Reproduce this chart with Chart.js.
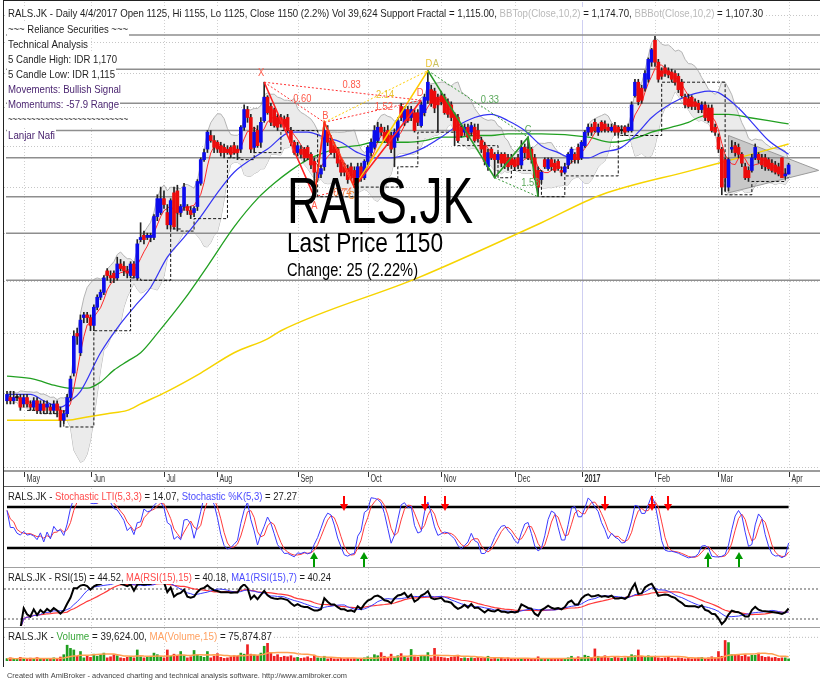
<!DOCTYPE html>
<html>
<head>
<meta charset="utf-8">
<script src="https://cdn.jsdelivr.net/npm/chart.js@4.4.1/dist/chart.umd.min.js"></script>
<style>
html, body { margin: 0; padding: 0; background: #fff; }
#wrap { position: relative; width: 820px; height: 683px; overflow: hidden; background: #fff; }
canvas { position: absolute; left: 0; }
</style>
</head>
<body>
<div id="wrap">
  <canvas id="cMain" width="820" height="487" style="top:0px"></canvas>
  <canvas id="cStoch" width="820" height="80" style="top:487px"></canvas>
  <canvas id="cRsi" width="820" height="60" style="top:567px"></canvas>
  <canvas id="cVol" width="820" height="56" style="top:627px"></canvas>
</div>
<script>
// daily bars, RALS.JK, late Apr 2016 .. 4 Apr 2017
const opens = [
  650,655,650,655,655,645,655,645,640,650,635,645,640,640,635,645,635,620,630,655,
  695,765,730,795,800,795,780,815,835,845,890,880,885,875,905,900,890,880,905,875,
  960,970,965,965,965,1015,1025,1060,1025,995,1075,1080,1025,1040,1040,1030,1025,1040,1100,1165,
  1195,1235,1220,1215,1205,1200,1195,1200,1205,1195,1195,1260,1315,1290,1200,1250,1215,1280,1355,1325,
  1315,1290,1290,1285,1290,1250,1215,1185,1195,1195,1200,1180,1160,1115,1125,1145,1250,1220,1205,1195,
  1165,1145,1140,1145,1135,1115,1145,1115,1160,1185,1200,1220,1260,1245,1250,1235,1200,1230,1325,1275,
  1315,1290,1305,1305,1265,1305,1345,1380,1375,1355,1360,1355,1340,1330,1300,1290,1260,1245,1260,1245,
  1260,1250,1220,1205,1145,1195,1180,1165,1180,1180,1170,1170,1165,1170,1150,1200,1195,1195,1170,1135,
  1110,1165,1140,1165,1155,1160,1135,1130,1150,1165,1180,1200,1170,1205,1245,1260,1275,1245,1275,1270,
  1260,1250,1265,1260,1250,1260,1250,1250,1360,1405,1385,1385,1415,1475,1555,1475,1445,1455,1445,1440,
  1435,1425,1405,1355,1350,1355,1340,1335,1315,1330,1320,1320,1260,1230,1195,1165,1090,1195,1205,1200,
  1180,1145,1135,1135,1170,1180,1170,1170,1165,1155,1150,1145,1170,1120,1125
];
const highs = [
  665,665,665,660,660,660,660,650,655,655,650,650,650,645,650,650,640,635,660,690,
  770,775,800,805,805,800,820,840,850,880,895,890,890,920,915,910,900,910,910,960,
  1000,980,975,975,1020,1070,1090,1080,1045,1060,1090,1095,1045,1100,1045,1040,1040,1110,1170,1195,
  1250,1250,1235,1220,1215,1210,1205,1205,1215,1205,1265,1330,1325,1300,1260,1265,1290,1405,1360,1335,
  1320,1300,1300,1295,1300,1260,1220,1215,1205,1200,1205,1185,1170,1135,1150,1275,1265,1235,1215,1200,
  1170,1155,1150,1155,1145,1155,1155,1165,1205,1225,1265,1275,1270,1260,1265,1245,1255,1290,1335,1325,
  1325,1325,1315,1315,1340,1365,1445,1395,1385,1365,1375,1365,1350,1340,1305,1300,1270,1270,1270,1275,
  1270,1270,1230,1215,1195,1200,1185,1185,1185,1185,1180,1180,1170,1180,1220,1210,1230,1200,1180,1145,
  1135,1170,1170,1170,1165,1165,1145,1155,1185,1200,1185,1210,1220,1250,1270,1270,1285,1270,1280,1280,
  1270,1270,1275,1265,1265,1265,1270,1340,1415,1415,1395,1445,1490,1525,1570,1485,1455,1465,1455,1450,
  1445,1435,1415,1365,1365,1360,1350,1345,1340,1340,1330,1330,1270,1240,1200,1170,1170,1220,1215,1210,
  1185,1155,1145,1180,1210,1185,1180,1180,1170,1165,1160,1155,1170,1140,1155
];
const lows = [
  645,645,645,650,635,640,640,635,635,630,630,630,630,630,630,625,610,615,625,650,
  690,745,725,785,785,770,770,810,830,840,870,865,865,870,890,880,875,875,875,870,
  955,950,960,955,960,1005,1020,1035,985,985,985,980,1015,1030,1020,1010,1015,1030,1095,1160,
  1185,1215,1185,1185,1175,1170,1180,1170,1180,1165,1185,1250,1275,1185,1185,1200,1200,1275,1300,1265,
  1260,1250,1260,1250,1245,1205,1180,1175,1170,1160,1165,1140,1065,1110,1115,1135,1205,1180,1170,1145,
  1120,1120,1100,1110,1090,1110,1105,1110,1150,1175,1195,1215,1235,1215,1205,1185,1145,1220,1280,1265,
  1275,1280,1245,1265,1260,1295,1335,1325,1305,1245,1330,1300,1290,1280,1205,1215,1230,1235,1220,1235,
  1215,1215,1185,1150,1135,1165,1115,1155,1145,1140,1135,1140,1135,1140,1140,1170,1165,1155,1110,1065,
  1100,1140,1135,1135,1130,1135,1120,1125,1140,1155,1155,1155,1165,1200,1235,1235,1245,1235,1245,1245,
  1245,1245,1235,1235,1240,1235,1245,1245,1355,1330,1335,1375,1405,1460,1460,1405,1415,1425,1420,1405,
  1395,1370,1355,1320,1320,1315,1315,1305,1305,1280,1275,1245,1235,1185,1070,1080,1080,1185,1175,1170,
  1145,1110,1105,1130,1165,1155,1140,1135,1135,1130,1125,1120,1115,1115,1125
];
const closes = [
  660,650,655,655,640,655,645,640,650,635,645,635,645,635,645,635,620,630,655,685,
  760,760,790,800,795,780,815,835,845,875,880,875,875,905,895,890,885,905,880,950,
  965,960,970,970,1015,1060,1060,1045,995,1055,990,1025,1040,1090,1030,1020,1035,1105,1165,1185,
  1245,1220,1200,1195,1185,1185,1185,1180,1185,1185,1260,1315,1290,1195,1245,1205,1275,1355,1305,1275,
  1265,1260,1270,1260,1250,1215,1185,1205,1180,1170,1170,1150,1130,1130,1140,1250,1215,1185,1185,1155,
  1130,1130,1110,1115,1100,1145,1115,1160,1200,1215,1250,1260,1245,1220,1215,1195,1245,1280,1290,1315,
  1280,1315,1250,1275,1330,1355,1405,1335,1320,1330,1340,1305,1300,1290,1250,1220,1235,1260,1230,1265,
  1220,1225,1195,1160,1185,1170,1165,1180,1155,1155,1145,1150,1145,1150,1200,1185,1170,1165,1115,1090,
  1130,1145,1165,1145,1135,1140,1130,1145,1180,1195,1165,1165,1215,1245,1260,1245,1250,1260,1250,1255,
  1250,1260,1245,1245,1250,1245,1260,1330,1405,1340,1345,1435,1485,1520,1475,1415,1425,1435,1430,1415,
  1405,1380,1360,1330,1325,1325,1325,1315,1330,1290,1280,1250,1245,1195,1090,1115,1165,1200,1185,1180,
  1155,1115,1115,1170,1200,1165,1150,1145,1140,1135,1130,1125,1115,1125,1150
];
const volumes = [
  45000,60000,35000,40000,70000,50000,40000,55000,45000,65000,40000,50000,35000,45000,60000,50000,75000,120000,300000,240000,
  210000,90000,180000,60000,100000,70000,130000,90000,120000,150000,60000,80000,120000,100000,60000,50000,70000,90000,60000,210000,
  80000,60000,70000,90000,150000,120000,80000,60000,210000,90000,130000,110000,180000,100000,60000,80000,200000,120000,90000,70000,
  180000,60000,90000,140000,70000,50000,60000,80000,100000,90000,150000,130000,310000,130000,110000,100000,150000,280000,440000,160000,
  90000,120000,70000,90000,80000,100000,60000,70000,50000,60000,80000,50000,110000,60000,50000,90000,40000,50000,40000,40000,
  50000,40000,50000,40000,45000,50000,40000,60000,80000,60000,120000,100000,160000,90000,70000,130000,60000,100000,140000,70000,
  60000,220000,80000,70000,100000,90000,160000,60000,240000,80000,70000,60000,50000,70000,80000,110000,50000,60000,50000,60000,
  50000,70000,50000,60000,90000,40000,50000,40000,50000,40000,60000,40000,50000,40000,50000,40000,50000,40000,45000,80000,
  40000,50000,40000,50000,40000,45000,40000,50000,60000,90000,50000,80000,60000,110000,90000,60000,230000,90000,70000,100000,
  60000,50000,80000,60000,50000,60000,70000,120000,100000,210000,90000,80000,100000,70000,90000,60000,50000,60000,70000,50000,
  40000,60000,50000,40000,50000,40000,50000,60000,70000,50000,60000,80000,60000,180000,90000,390000,350000,120000,120000,120000,
  90000,120000,80000,110000,110000,150000,90000,70000,80000,60000,70000,50000,60000,60000,39624
];

// month starts (bar index) and axis labels
const monthIdx = [5, 25, 47, 63, 87, 108, 130, 152, 172, 194, 213, 234];
const monthLabels = ['May', 'Jun', 'Jul', 'Aug', 'Sep', 'Oct', 'Nov', 'Dec', '2017', 'Feb', 'Mar', 'Apr'];
const yearIdx = 172;

// longer moving averages (bar index, value)
const maBlueIdx = [0,7,11,16,19,22,28,33,38,43,48,53,58,63,68,73,78,85,90,95,100,105,110,115,120,125,130,135,140,145,150,155,160,165,169,174,178,184,189,193,199,204,210,213,219,223,228,234];
const maBlueVal = [660,660,650,640,650,665,730,775,815,855,920,965,1015,1075,1130,1165,1195,1245,1245,1230,1215,1185,1170,1170,1180,1200,1230,1265,1290,1300,1280,1250,1205,1185,1170,1170,1185,1200,1245,1290,1335,1360,1375,1370,1320,1275,1220,1180];
const maGreenIdx = [0,8,14,19,24,28,32,36,40,45,53,60,68,75,80,85,90,95,100,105,110,115,120,125,130,135,140,145,150,155,160,174,181,189,193,199,204,207,211,216,222,228,234];
const maGreenVal = [690,685,675,670,670,680,700,715,730,765,830,900,990,1060,1100,1135,1165,1185,1200,1205,1215,1215,1215,1220,1230,1230,1235,1235,1240,1240,1240,1230,1215,1230,1245,1260,1275,1290,1300,1300,1290,1280,1270];
const maYellowIdx = [0,18,24,30,36,40,48,58,68,78,82,123,160,178,205,219,234];
const maYellowVal = [620,620,625,630,635,645,665,695,730,755,770,875,1000,1070,1135,1170,1210];

// horizontal levels and price grid
const levelPrices = [1575, 1450, 1335, 1250, 1170, 1065, 975, 870];
const gridPrices = [1653, 1549, 1437, 1323, 1204, 1090, 976, 869, 766, 662, 554];

// harmonic patterns (X A B C D)
const redPatIdx = [77, 92, 95, 104, 124];
const redPatVal = [1405, 1065, 1275, 1090, 1345];
const redRatios = ['0.60', '0.74', '1.52', '0.83'];
const yelPatIdx = [92, 95, 104, 126];
const yelPatVal = [1065, 1275, 1090, 1445];
const yelRatio = '2.14';
const grnPatIdx = [126, 146, 156, 159];
const grnPatVal = [1445, 1115, 1230, 1065];
const grnRatios = ['0.33', '1.53'];

// triangle at the end
const triIdx = [216, 243, 216, 216];
const triVal = [1235, 1135, 1075, 1235];

// stochastic signals
const sellIdx = [101, 125, 131, 179, 193, 198];
const buyIdx = [92, 107, 210, 219];

const N = closes.length;
const X_MIN = -0.9, X_MAX = 243.4;
const F = '"Liberation Sans", Arial, sans-serif';
const DARK = '#1e1e1e';

const series = a => a.map((v, i) => ({ x: i, y: v }));
const pts = (ix, vv) => ix.map((x, k) => ({ x: x, y: vv[k] }));

function sma(a, n) {
  return a.map((v, i) => {
    if (v == null) return null;
    let s = 0, c = 0;
    for (let j = Math.max(0, i - n + 1); j <= i; j++) if (a[j] != null) { s += a[j]; c++; }
    return s / c;
  });
}
function sdev(a, n) {
  const m = sma(a, n);
  return a.map((v, i) => {
    let s = 0, c = 0;
    for (let j = Math.max(0, i - n + 1); j <= i; j++) { s += (a[j] - m[i]) ** 2; c++; }
    return Math.sqrt(s / c);
  });
}

// indicators
const bbMid = sma(closes, 10), bbSd = sdev(closes, 10);
const bbUp = bbMid.map((m, i) => m + 2 * bbSd[i]);
const bbLo = bbMid.map((m, i) => m - 2 * bbSd[i]);
const maRed = sma(closes, 5);

const support = [];
let lastSup = null;
for (let i = 0; i < N; i++) {
  const j = i - 2;
  if (j >= 2 && lows[j] < lows[j - 1] && lows[j] < lows[j - 2] && lows[j] <= lows[j + 1] && lows[j] <= lows[j + 2]) lastSup = lows[j];
  support.push(lastSup);
}

const fastK = closes.map((c, i) => {
  let hh = -Infinity, ll = Infinity;
  for (let j = Math.max(0, i - 4); j <= i; j++) { hh = Math.max(hh, highs[j]); ll = Math.min(ll, lows[j]); }
  return hh > ll ? (c - ll) / (hh - ll) * 100 : 50;
});
const stK = sma(fastK, 3);
const stD = sma(stK, 3);

function rsi(c, n) {
  const out = [null];
  let ag = 0, al = 0;
  for (let i = 1; i < c.length; i++) {
    const d = c[i] - c[i - 1];
    const m = Math.min(i, n);
    ag = (ag * (m - 1) + Math.max(d, 0)) / m;
    al = (al * (m - 1) + Math.max(-d, 0)) / m;
    out.push(i < 4 ? null : (al === 0 ? 100 : 100 - 100 / (1 + ag / al)));
  }
  return out;
}
const rsiLine = rsi(closes, 15);
const rsiMa15 = sma(rsiLine, 15);
const rsiMa7 = sma(rsiLine, 7);
const volMa = sma(volumes, 15);

// drawing helpers
function drawText(ctx, segs, x, y, size, width, opts) {
  opts = opts || {};
  ctx.save();
  ctx.font = (opts.bold ? 'bold ' : '') + size + 'px ' + F;
  ctx.textBaseline = opts.baseline || 'middle';
  ctx.textAlign = 'left';
  const full = segs.map(s => s[0]).join('');
  const w = ctx.measureText(full).width;
  const k = width ? width / w : (opts.sx || 1);
  if (opts.bg) {
    ctx.fillStyle = '#fff';
    ctx.fillRect(x - 1, y - Math.round(size * 0.6), w * k + 2, Math.round(size * 1.2));
  }
  ctx.translate(x, y);
  ctx.scale(k, 1);
  let cx = 0;
  for (const s of segs) {
    ctx.fillStyle = s[1];
    ctx.fillText(s[0], cx, 0);
    cx += ctx.measureText(s[0]).width;
  }
  ctx.restore();
}
function lbl(ctx, t, x, y, color) {
  ctx.save();
  ctx.font = '11px ' + F;
  ctx.fillStyle = color;
  ctx.textAlign = 'center';
  ctx.textBaseline = 'middle';
  ctx.translate(x, y);
  ctx.scale(0.85, 1);
  ctx.fillText(t, 0, 0);
  ctx.restore();
}
function seg(ctx, x1, y1, x2, y2) {
  ctx.beginPath(); ctx.moveTo(x1, y1); ctx.lineTo(x2, y2); ctx.stroke();
}
function monthGrid(chart) {
  const { ctx, chartArea: a, scales: { x } } = chart;
  ctx.save();
  ctx.strokeStyle = '#d0d0d0';
  ctx.lineWidth = 1;
  ctx.setLineDash([1, 2]);
  monthIdx.forEach(m => {
    const px = Math.round(x.getPixelForValue(m)) + 0.5;
    seg(ctx, px, a.top, px, a.bottom);
  });
  ctx.setLineDash([]);
  ctx.strokeStyle = '#cfcff2';
  const py = Math.round(x.getPixelForValue(yearIdx)) + 0.5;
  seg(ctx, py, a.top, py, a.bottom);
  ctx.restore();
}

const xCfg = { type: 'linear', min: X_MIN, max: X_MAX, display: false, offset: false, bounds: 'data' };
const baseOpts = {
  responsive: false,
  devicePixelRatio: 1,
  animation: false,
  events: [],
  plugins: { legend: { display: false }, tooltip: { enabled: false } }
};

function lineDs(data, color, width, order, extra) {
  return Object.assign({ type: 'line', data: data, borderColor: color, borderWidth: width, pointRadius: 0, fill: false, order: order, tension: 0 }, extra || {});
}
function patDs(ix, vv, ks, color, dashed) {
  return lineDs(ks.map(k => ({ x: ix[k], y: vv[k] })), color, dashed ? 1 : 1.6, 1, { borderDash: dashed ? [2, 2] : [] });
}

// ---------------- main price pane ----------------
const candleCol = closes.map((c, i) => c > opens[i] ? '#0c0cec' : (c < opens[i] ? '#ec0c0c' : '#111'));

const mainDeco = {
  id: 'mainDeco',
  beforeDatasetsDraw(chart) {
    const { ctx, chartArea: a, scales: { y } } = chart;
    ctx.save();
    ctx.strokeStyle = '#c6c6c6';
    ctx.lineWidth = 1;
    ctx.setLineDash([1, 2]);
    gridPrices.forEach(p => {
      const py = Math.round(y.getPixelForValue(p)) + 0.5;
      seg(ctx, a.left, py, a.right, py);
    });
    ctx.restore();
    monthGrid(chart);
  },
  afterDatasetsDraw(chart) {
    const { ctx, scales: { x, y } } = chart;
    const P = (ix, vv, k) => [x.getPixelForValue(ix[k]), y.getPixelForValue(vv[k])];
    const mid = (p, q) => [(p[0] + q[0]) / 2, (p[1] + q[1]) / 2];
    const red = '#ff5a4a', yel = '#e9c22e', grn = '#5aa85a';
    const rX = P(redPatIdx, redPatVal, 0), rA = P(redPatIdx, redPatVal, 1), rB = P(redPatIdx, redPatVal, 2),
          rC = P(redPatIdx, redPatVal, 3), rD = P(redPatIdx, redPatVal, 4);
    lbl(ctx, 'X', rX[0] - 3, rX[1] - 9, red);
    lbl(ctx, 'A', rA[0], rA[1] + 9, red);
    lbl(ctx, 'B', rB[0] + 1, rB[1] - 6, red);
    lbl(ctx, 'C', rC[0] - 3, rC[1] + 9, '#f08a30');
    lbl(ctx, 'D', rD[0] - 1, rD[1] - 7, red);
    let m = mid(rX, rB); lbl(ctx, redRatios[0], m[0] + 8, m[1] - 3, red);
    m = mid(rA, rC); lbl(ctx, redRatios[1], m[0] + 8, m[1] + 1, '#f07a3a');
    m = mid(rB, rD); lbl(ctx, redRatios[2], m[0] + 11, m[1] - 4, red);
    m = mid(rX, rD); lbl(ctx, redRatios[3], m[0] + 9, m[1] - 6, red);
    const yB = P(yelPatIdx, yelPatVal, 1), yD = P(yelPatIdx, yelPatVal, 3);
    lbl(ctx, 'D', yD[0] + 1, yD[1] - 7, yel);
    m = mid(yB, yD); lbl(ctx, yelRatio, m[0] + 9, m[1] - 2, yel);
    const gA = P(grnPatIdx, grnPatVal, 0), gB = P(grnPatIdx, grnPatVal, 1), gC = P(grnPatIdx, grnPatVal, 2), gD = P(grnPatIdx, grnPatVal, 3);
    lbl(ctx, 'A', gA[0] + 8, gA[1] - 7, '#c8c060');
    lbl(ctx, 'C', gC[0], gC[1] - 7, grn);
    m = mid(gA, gC); lbl(ctx, grnRatios[0], m[0] + 12, m[1] - 4, grn);
    m = mid(gB, gD); lbl(ctx, grnRatios[1], m[0] + 14, m[1] - 4, grn);
  },
  afterDraw(chart) {
    const { ctx, scales: { x } } = chart;
    ctx.save();
    // frame
    ctx.strokeStyle = '#222';
    ctx.lineWidth = 1;
    seg(ctx, 3, 0.5, 820, 0.5);
    seg(ctx, 3.5, 0, 3.5, 487);
    // header and notes
    drawText(ctx, [
      ['RALS.JK - Daily 4/4/2017 Open 1125, Hi 1155, Lo 1125, Close 1150 (2.2%) Vol 39,624 Support Fractal = 1,115.00, ', DARK],
      ['BBTop(Close,10,2)', '#b9b9b9'], [' = 1,174.70, ', DARK],
      ['BBBot(Close,10,2)', '#b9b9b9'], [' = 1,107.30', DARK]
    ], 8, 14, 11, 755, { bg: true });
    const purple = '#4a2470';
    const notes = [
      ['~~~ Reliance Securities ~~~', DARK, 30, 120],
      ['Technical Analysis', DARK, 45, 80],
      ['5 Candle High: IDR 1,170', DARK, 60, 109],
      ['5 Candle Low: IDR 1,115', DARK, 75, 107],
      ['Movements: Bullish Signal', purple, 90, 113],
      ['Momentums: -57.9 Range', purple, 105, 111],
      ['~~~~~~~~~~~~~~~~~~~~~~~~~~', DARK, 120, 120],
      ['Lanjar Nafi', purple, 136, 47]
    ];
    notes.forEach(n => drawText(ctx, [[n[0], n[1]]], 8, n[2], 11, n[3], { bg: true }));
    // big label
    drawText(ctx, [['RALS.JK', '#000']], 287, 223, 64, 186, { baseline: 'alphabetic' });
    drawText(ctx, [['Last Price 1150', '#000']], 287, 252, 28, 156, { baseline: 'alphabetic' });
    drawText(ctx, [['Change: 25 (2.22%)', '#000']], 287, 276, 18, 131, { baseline: 'alphabetic' });
    // date axis strip
    ctx.fillStyle = '#fff';
    ctx.fillRect(4, 471, 816, 16);
    ctx.strokeStyle = '#9c9c9c';
    ctx.lineWidth = 2;
    seg(ctx, 4, 471, 820, 471);
    ctx.strokeStyle = '#666';
    ctx.lineWidth = 1;
    seg(ctx, 4, 486.5, 820, 486.5);
    monthIdx.forEach((mi, k) => {
      const px = Math.round(x.getPixelForValue(mi)) + 0.5;
      ctx.strokeStyle = '#333';
      seg(ctx, px, 472, px, 477);
      drawText(ctx, [[monthLabels[k], '#333']], px + 2, 479.5, 10, null, { bold: monthLabels[k] === '2017', sx: 0.72 });
    });
    ctx.restore();
  }
};

new Chart(document.getElementById('cMain'), {
  type: 'bar',
  data: {
    datasets: [
      lineDs(series(bbUp), '#b4b4b4', 1, 30, { fill: '+1', backgroundColor: '#ebebeb' }),
      lineDs(series(bbLo), '#b4b4b4', 1, 30),
      lineDs(pts(triIdx, triVal), '#9a9a9a', 1, 25, { fill: 'shape', backgroundColor: 'rgba(120,120,120,0.30)' })
    ].concat(
      levelPrices.map(p => lineDs([{ x: -0.3, y: p }, { x: X_MAX, y: p }], '#8e8e8e', 1.5, 20))
    ).concat([
      lineDs(pts(maYellowIdx, maYellowVal), '#f6d400', 1.5, 12, { cubicInterpolationMode: 'monotone' }),
      lineDs(pts(maGreenIdx, maGreenVal), '#22a022', 1.3, 11, { cubicInterpolationMode: 'monotone' }),
      lineDs(pts(maBlueIdx, maBlueVal), '#3434f4', 1.2, 10, { cubicInterpolationMode: 'monotone' }),
      lineDs(series(maRed), '#ff2a2a', 1, 9),
      lineDs(series(support), '#111', 1, 8, { stepped: 'after', borderDash: [3, 2] }),
      { type: 'bar', data: closes.map((c, i) => ({ x: i, y: [lows[i], highs[i]] })), backgroundColor: '#222',
        barThickness: 1, grouped: false, order: 5 },
      { type: 'bar', data: closes.map((c, i) => ({ x: i, y: [opens[i], c] })), backgroundColor: candleCol,
        barThickness: 3, grouped: false, minBarLength: 1, order: 4 },
      patDs(redPatIdx, redPatVal, [0, 1, 2, 3, 4], '#ff2222', false),
      patDs(redPatIdx, redPatVal, [0, 2], '#ff3030', true),
      patDs(redPatIdx, redPatVal, [1, 3], '#ff3030', true),
      patDs(redPatIdx, redPatVal, [2, 4], '#ff3030', true),
      patDs(redPatIdx, redPatVal, [0, 4], '#ff3030', true),
      patDs(yelPatIdx, yelPatVal, [0, 1, 2, 3], '#ffcc00', false),
      patDs(yelPatIdx, yelPatVal, [1, 3], '#ffcc00', true),
      patDs(grnPatIdx, grnPatVal, [0, 1, 2, 3], '#2a9a2a', false),
      patDs(grnPatIdx, grnPatVal, [0, 2], '#3a9a3a', true),
      patDs(grnPatIdx, grnPatVal, [1, 3], '#3a9a3a', true)
    ])
  },
  options: Object.assign({}, baseOpts, {
    layout: { padding: { left: 4, top: 2, right: 0, bottom: 17 } },
    scales: {
      x: xCfg,
      y: { type: 'logarithmic', min: 549.7, max: 1706, display: false, bounds: 'data' }
    }
  }),
  plugins: [mainDeco]
});

// ---------------- stochastic pane ----------------
const stochDeco = {
  id: 'stochDeco',
  beforeDatasetsDraw(chart) { monthGrid(chart); },
  afterDraw(chart) {
    const { ctx, scales: { x } } = chart;
    ctx.save();
    ctx.strokeStyle = '#222';
    ctx.lineWidth = 1;
    seg(ctx, 3.5, 0, 3.5, 80);
    sellIdx.forEach(i => {
      const px = Math.round(x.getPixelForValue(i));
      ctx.fillStyle = '#ff0000';
      ctx.fillRect(px - 1, 9, 2, 9);
      ctx.beginPath(); ctx.moveTo(px - 4, 17); ctx.lineTo(px + 4, 17); ctx.lineTo(px, 24); ctx.closePath(); ctx.fill();
    });
    buyIdx.forEach(i => {
      const px = Math.round(x.getPixelForValue(i));
      ctx.fillStyle = '#009a00';
      ctx.fillRect(px - 1, 71, 2, 9);
      ctx.beginPath(); ctx.moveTo(px - 4, 72); ctx.lineTo(px + 4, 72); ctx.lineTo(px, 65); ctx.closePath(); ctx.fill();
    });
    drawText(ctx, [['RALS.JK - ', DARK], ['Stochastic LTI(5,3,3)', '#ff4a4a'], [' = 14.07, ', DARK],
      ['Stochastic %K(5,3)', '#4a4aff'], [' = 27.27', DARK]], 8, 10, 11, 289, { bg: true });
    ctx.restore();
  }
};
new Chart(document.getElementById('cStoch'), {
  type: 'line',
  data: {
    datasets: [
      lineDs([{ x: 0, y: 80 }, { x: N - 1, y: 80 }], '#000', 2.5, 5),
      lineDs([{ x: 0, y: 20 }, { x: N - 1, y: 20 }], '#000', 2.5, 5),
      lineDs(series(stD), '#ff3a3a', 1, 3),
      lineDs(series(stK), '#3a3aff', 1, 2)
    ]
  },
  options: Object.assign({}, baseOpts, {
    layout: { padding: { left: 4, top: 1, right: 0, bottom: 1 } },
    scales: { x: xCfg, y: { type: 'linear', min: -6.3, max: 107.8, display: false, bounds: 'data' } }
  }),
  plugins: [stochDeco]
});

// ---------------- RSI pane ----------------
const rsiDeco = {
  id: 'rsiDeco',
  beforeDatasetsDraw(chart) { monthGrid(chart); },
  afterDraw(chart) {
    const { ctx } = chart;
    ctx.save();
    ctx.strokeStyle = '#a0a0a0';
    ctx.lineWidth = 2;
    seg(ctx, 4, 0, 820, 0);
    ctx.strokeStyle = '#222';
    ctx.lineWidth = 1;
    seg(ctx, 3.5, 0, 3.5, 60);
    drawText(ctx, [['RALS.JK - RSI(15) = 44.52, ', DARK], ['MA(RSI(15),15)', '#ff4a4a'], [' = 40.18, ', DARK],
      ['MA1(RSI(15),7)', '#4a4aff'], [' = 40.24', DARK]], 8, 11, 11, 323, { bg: true });
    ctx.restore();
  }
};
new Chart(document.getElementById('cRsi'), {
  type: 'line',
  data: {
    datasets: [
      lineDs([{ x: X_MIN, y: 70 }, { x: X_MAX, y: 70 }], '#555', 1, 6, { borderDash: [2, 2] }),
      lineDs([{ x: X_MIN, y: 30 }, { x: X_MAX, y: 30 }], '#555', 1, 6, { borderDash: [2, 2] }),
      lineDs(series(rsiMa15), '#ff3a3a', 1.2, 4),
      lineDs(series(rsiMa7), '#3a3aff', 1, 3),
      lineDs(series(rsiLine), '#000', 2, 2)
    ]
  },
  options: Object.assign({}, baseOpts, {
    layout: { padding: { left: 4, top: 1, right: 0, bottom: 1 } },
    scales: { x: xCfg, y: { type: 'linear', min: 20.67, max: 98, display: false, bounds: 'data' } }
  }),
  plugins: [rsiDeco]
});

// ---------------- volume pane ----------------
const volCol = closes.map((c, i) => c >= opens[i] ? '#1f9f1f' : '#ee2020');
const volDeco = {
  id: 'volDeco',
  beforeDatasetsDraw(chart) { monthGrid(chart); },
  afterDraw(chart) {
    const { ctx } = chart;
    ctx.save();
    ctx.strokeStyle = '#a0a0a0';
    ctx.lineWidth = 2;
    seg(ctx, 4, 0, 820, 0);
    ctx.strokeStyle = '#222';
    ctx.lineWidth = 1;
    seg(ctx, 3.5, 0, 3.5, 40);
    drawText(ctx, [['RALS.JK - ', DARK], ['Volume', '#3aa83a'], [' = 39,624.00, ', DARK],
      ['MA(Volume,15)', '#ffa060'], [' = 75,874.87', DARK]], 8, 10, 11, 264, { bg: true });
    drawText(ctx, [['Created with AmiBroker - advanced charting and technical analysis software. http://www.amibroker.com', '#444']],
      7, 49, 8, 340);
    ctx.restore();
  }
};
new Chart(document.getElementById('cVol'), {
  type: 'bar',
  data: {
    datasets: [
      lineDs([{ x: X_MIN, y: 450000 }, { x: X_MAX, y: 450000 }], '#bbb', 1, 6, { borderDash: [1, 2] }),
      { type: 'bar', data: series(volumes), backgroundColor: volCol, barThickness: 2, grouped: false, order: 4 },
      lineDs(series(volMa), '#ffa050', 1.5, 2)
    ]
  },
  options: Object.assign({}, baseOpts, {
    layout: { padding: { left: 4, top: 1, right: 0, bottom: 22 } },
    scales: { x: xCfg, y: { type: 'linear', min: 0, max: 627000, display: false, bounds: 'data' } }
  }),
  plugins: [volDeco]
});
</script>
</body>
</html>
